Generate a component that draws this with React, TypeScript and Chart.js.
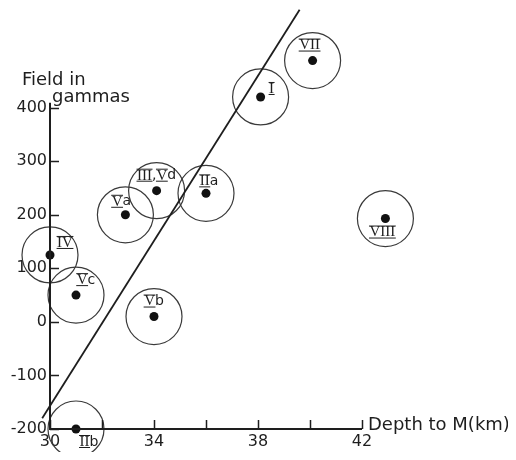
import React, { useEffect, useRef } from 'react';
import { Chart, registerables } from 'chart.js';

Chart.register(...registerables);

// ---- data ----
const siteLabels = ['IV', 'Vc', 'Vb', 'IIb', 'Va', 'III,Vd', 'IIa', 'I', 'VII', 'VIII'];
const depthKm = [30.0, 31.0, 34.0, 31.0, 32.9, 34.1, 36.0, 38.1, 40.1, 42.9];
const fieldGammas = [125, 50, 10, -200, 200, 245, 240, 420, 488, 193];
const trendDepth = [29.7, 39.6];
const trendField = [-180, 583];
const xTickLabels = [30, 34, 38, 42];
const xAxisRange = [30, 42];
const yAxisRange = [-200, 400];
const yTickStep = 100;
const xTickStep = 2;

// label placement relative to each dot (pixels)
const labelOffsets: [number, number][] = [
  [15, -12], [10, -15], [0, -15], [13, 13], [-4, -13],
  [0, -15], [3, -12], [11, -8], [-3, -15], [-3, 14],
];

const INK = '#1e1e1e';

const axesPlugin = {
  id: 'axesPlugin',
  afterDraw(chart: any) {
    const { ctx, scales } = chart;
    const x = scales.x;
    const y = scales.y;
    const x0 = x.getPixelForValue(xAxisRange[0]);
    const x1 = x.getPixelForValue(xAxisRange[1]);
    const y0 = y.getPixelForValue(yAxisRange[0]);
    const y1 = y.getPixelForValue(yAxisRange[1]);
    ctx.save();
    ctx.strokeStyle = INK;
    ctx.lineWidth = 2;
    ctx.beginPath();
    ctx.moveTo(x0, y1 - 5);
    ctx.lineTo(x0, y0);
    ctx.lineTo(x1, y0);
    ctx.stroke();

    ctx.lineWidth = 1.5;
    ctx.beginPath();
    x.ticks.forEach((t: any) => {
      if (t.value > xAxisRange[1]) return;
      const px = Math.round(x.getPixelForValue(t.value)) + 0.5;
      ctx.moveTo(px, y0);
      ctx.lineTo(px, y0 - 9);
    });
    y.ticks.forEach((t: any) => {
      if (t.value > yAxisRange[1] || t.value % yTickStep !== 0) return;
      const py = Math.round(y.getPixelForValue(t.value)) + 0.5;
      ctx.moveTo(x0, py);
      ctx.lineTo(x0 + 9, py);
    });
    ctx.stroke();

    // axis titles
    ctx.fillStyle = INK;
    ctx.font = '18px "DejaVu Sans"';
    ctx.textBaseline = 'alphabetic';
    ctx.textAlign = 'left';
    ctx.fillText('Field in', x0 - 28, y1 - 23);
    ctx.fillText('gammas', x0 + 2, y1 - 6);
    ctx.fillText('Depth to M(km)', x1 + 6, y0 + 1);
    ctx.restore();
  },
};

const pointLabels = {
  id: 'pointLabels',
  afterDatasetsDraw(chart: any) {
    const { ctx } = chart;
    const meta = chart.getDatasetMeta(2);
    ctx.save();
    ctx.fillStyle = INK;
    ctx.strokeStyle = INK;
    ctx.lineWidth = 1;
    ctx.textBaseline = 'middle';
    ctx.textAlign = 'left';
    meta.data.forEach((el: any, i: number) => {
      const text = siteLabels[i];
      const [dx, dy] = labelOffsets[i];
      const runs: { s: string; roman: boolean }[] = [];
      for (const ch of text) {
        const roman = ch === 'I' || ch === 'V';
        const last = runs[runs.length - 1];
        if (last && last.roman === roman) last.s += ch;
        else runs.push({ s: ch, roman });
      }
      const romanFont = '15px "Liberation Serif"';
      const plainFont = '14px "DejaVu Sans"';
      let total = 0;
      const widths = runs.map((r) => {
        ctx.font = r.roman ? romanFont : plainFont;
        const w = ctx.measureText(r.s).width;
        total += w;
        return w;
      });
      let cx = el.x + dx - total / 2;
      const cy = el.y + dy;
      runs.forEach((r, k) => {
        ctx.font = r.roman ? romanFont : plainFont;
        ctx.fillText(r.s, cx, cy);
        if (r.roman) {
          ctx.beginPath();
          ctx.moveTo(cx - 0.5, cy - 6.5);
          ctx.lineTo(cx + widths[k] + 0.5, cy - 6.5);
          ctx.moveTo(cx - 0.5, cy + 5.5);
          ctx.lineTo(cx + widths[k] + 0.5, cy + 5.5);
          ctx.stroke();
        }
        cx += widths[k];
      });
    });
    ctx.restore();
  },
};

export default function App() {
  const ref = useRef<HTMLCanvasElement | null>(null);

  useEffect(() => {
    if (!ref.current) return;
    const pts = depthKm.map((d, i) => ({ x: d, y: fieldGammas[i] }));
    const trend = trendDepth.map((d, i) => ({ x: d, y: trendField[i] }));
    const tickFont = { family: '"DejaVu Sans"', size: 16 };
    const chart = new Chart(ref.current, {
      type: 'scatter',
      data: {
        datasets: [
          {
            data: trend,
            showLine: true,
            borderColor: INK,
            borderWidth: 1.8,
            pointRadius: 0,
            clip: false,
          } as any,
          {
            data: pts,
            pointRadius: 28,
            pointBackgroundColor: 'rgba(0,0,0,0)',
            pointBorderColor: '#3a3a3a',
            pointBorderWidth: 1.2,
            clip: false,
          } as any,
          {
            data: pts,
            pointRadius: 4.5,
            pointBackgroundColor: '#111',
            pointBorderColor: '#111',
            pointBorderWidth: 0,
            clip: false,
          } as any,
        ],
      },
      options: {
        responsive: false,
        animation: false,
        devicePixelRatio: 1,
        events: [],
        layout: { autoPadding: false, padding: { left: 0, top: 14, right: 94, bottom: 0 } },
        plugins: { legend: { display: false }, tooltip: { enabled: false } },
        scales: {
          x: {
            type: 'linear',
            min: 30,
            max: 44,
            afterFit: (s: any) => { s.height = 23; },
            ticks: {
              stepSize: xTickStep,
              autoSkip: false,
              maxRotation: 0,
              padding: 3,
              color: INK,
              font: tickFont,
              callback: (v: any) => (xTickLabels.includes(Number(v)) ? String(v) : ''),
            },
            grid: { display: false, drawTicks: false },
            border: { display: false },
          },
          y: {
            type: 'linear',
            min: -200,
            max: 560,
            afterFit: (s: any) => { s.width = 42; },
            ticks: {
              stepSize: yTickStep,
              autoSkip: false,
              padding: 3,
              color: INK,
              font: tickFont,
              callback: (v: any) =>
                Number(v) <= yAxisRange[1] && Number(v) % yTickStep === 0 ? String(v) : '',
            },
            grid: { display: false, drawTicks: false },
            border: { display: false },
          },
        },
      },
      plugins: [axesPlugin, pointLabels],
    });
    return () => chart.destroy();
  }, []);

  return (
    <div style={{ width: 500, height: 444 }}>
      <canvas ref={ref} width={500} height={444} />
    </div>
  );
}
